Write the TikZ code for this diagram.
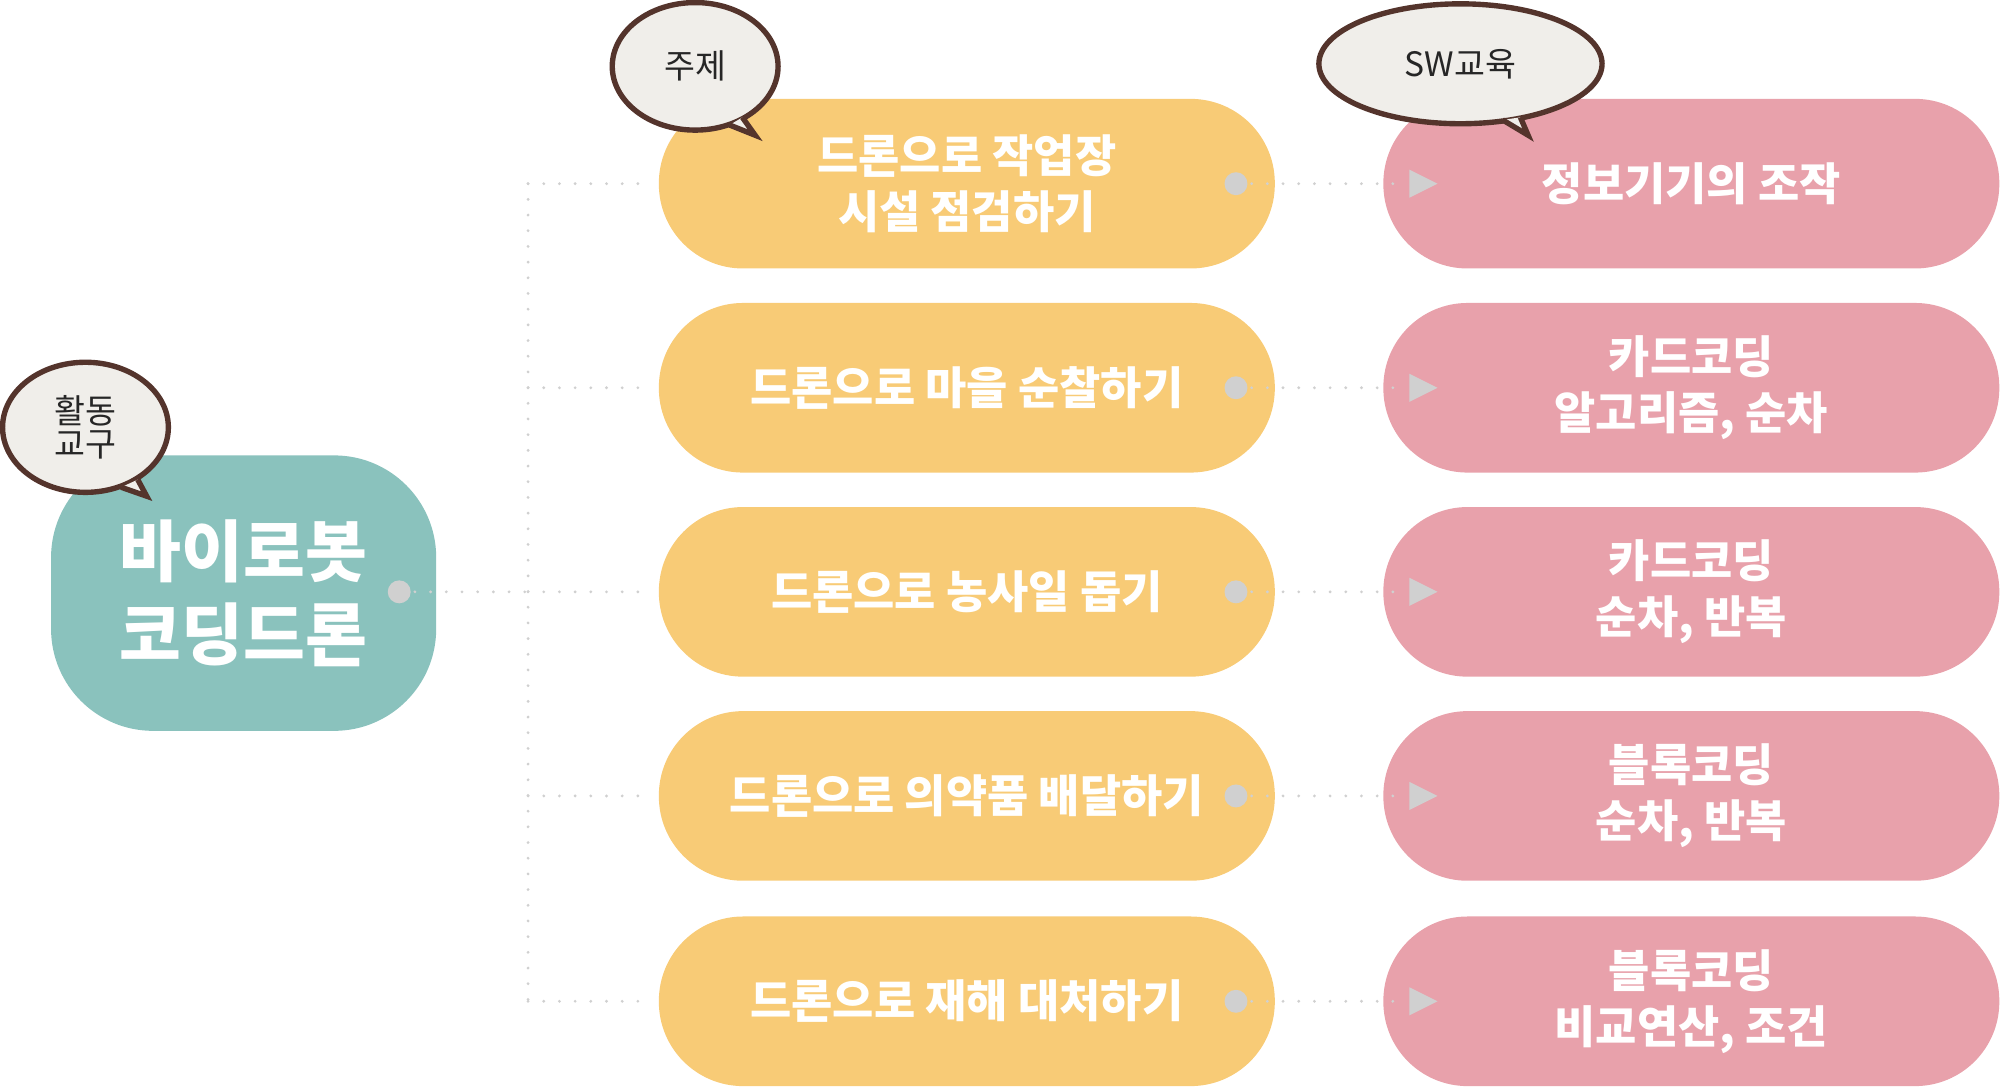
\documentclass[tikz,border=0pt]{standalone}
\usepackage{fontspec}
\setmainfont{Noto Sans CJK KR}
\usetikzlibrary{positioning}
\definecolor{teal}{RGB}{138,194,189}
\definecolor{yellowbox}{RGB}{248,203,118}
\definecolor{pinkbox}{RGB}{232,161,171}
\definecolor{dotgray}{RGB}{208,208,208}
\definecolor{bubbleline}{RGB}{84,52,44}
\definecolor{bubblefill}{RGB}{240,238,234}
\tikzset{
  topic/.style={draw=none,fill=yellowbox,rounded corners=1.32cm,minimum width=9.66cm,minimum height=2.66cm,text=white,font=\fontsize{20}{25}\selectfont\bfseries,align=center},
  sw/.style={topic,fill=pinkbox},
  tool/.style={draw=none,fill=teal,rounded corners=1.6cm,minimum width=6.04cm,minimum height=4.32cm,text=white,font=\fontsize{30}{37}\selectfont\bfseries,align=center},
  link/.style={dotgray,line width=1.4pt,dash pattern=on 0pt off 7pt,line cap=round},
  bubble/.style={draw=bubbleline,fill=bubblefill,line width=2.4pt},
  btext/.style={font=\fontsize{15}{18}\selectfont,text=black!85,align=center}
}
\begin{document}
\begin{tikzpicture}[x=0.02cm,y=-0.02cm]
	\useasboundingbox (0,0) rectangle (1568,853);
	% left tool box
	\node[tool] (tool) at (191,465) {바이로봇\\코딩드론};
	\fill[dotgray] (313,464) circle (9) coordinate (tooldot);
	\coordinate (trunk) at (414,464);
	\draw[link] (tooldot) -- (trunk);
	\coordinate (trunktop) at (414,144);
	\coordinate (trunkbot) at (414,785);
	\draw[link] (trunktop) -- (trunkbot);
	% rows
	\foreach \y/\a/\b [count=\i] in {
		144/{드론으로 작업장\\시설 점검하기}/{정보기기의 조작},
		304/{드론으로 마을 순찰하기}/{카드코딩\\알고리즘, 순차},
		464/{드론으로 농사일 돕기}/{카드코딩\\순차, 반복},
		624/{드론으로 의약품 배달하기}/{블록코딩\\순차, 반복},
		785/{드론으로 재해 대처하기}/{블록코딩\\비교연산, 조건}}{
		\node[topic] (topic\i) at (758,\y) {\a};
		\node[sw] (sw\i) at (1326,\y) {\b};
		\coordinate (left\i) at (414,\y);
		\coordinate (tip\i) at (505,\y);
		\draw[link] (left\i) -- (tip\i);
		\fill[dotgray] (969,\y) circle (9) coordinate (dot\i);
		\coordinate (arr\i) at (1098,\y);
		\draw[link] (dot\i) -- (arr\i);
		\fill[dotgray] (1105,\y-11) -- (1127,\y) -- (1105,\y+11) -- cycle;
	}
	% speech bubbles
	\draw[bubble] (545,52) ellipse (65 and 50);
	\filldraw[bubble] (572,98) -- (592,106) -- (582,92);
	\node[btext] (topiclabel) at (545,52) {주제};
	\draw[bubble] (1145,50) ellipse (111 and 47);
	\filldraw[bubble] (1178,94) -- (1198,106) -- (1192,92);
	\node[btext] (swlabel) at (1145,50) {SW교육};
	\draw[bubble] (67,335) ellipse (65 and 51);
	\filldraw[bubble] (95,382) -- (115,389) -- (108,376);
	\node[btext] (toollabel) at (67,335) {활동\\[-3pt]교구};
\end{tikzpicture}
\end{document}
